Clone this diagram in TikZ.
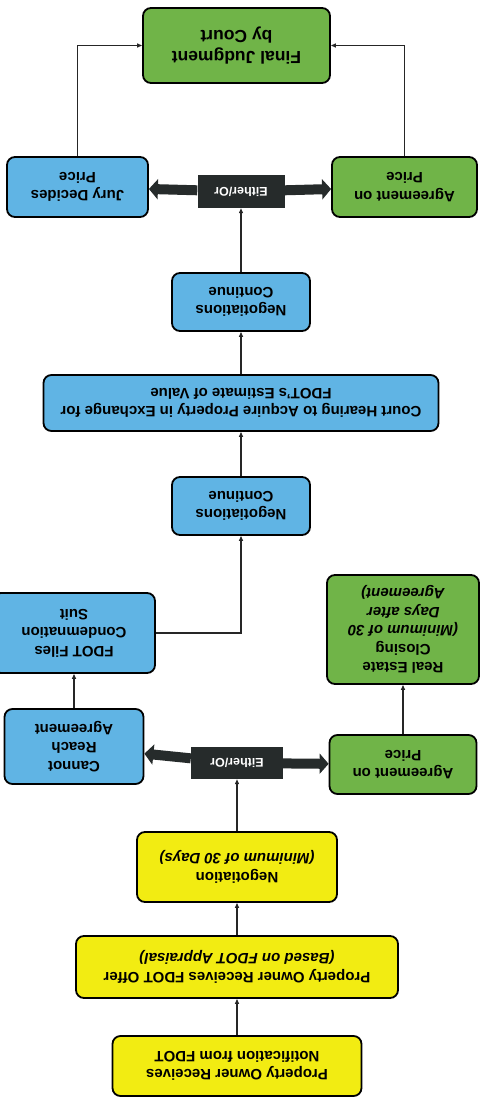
\documentclass[tikz,border=0pt]{standalone}
\usepackage{fontspec}
\setmainfont{Liberation Sans}
\usetikzlibrary{arrows.meta}

\definecolor{stepyellow}{RGB}{242,236,18}
\definecolor{stepgreen}{RGB}{112,180,72}
\definecolor{stepblue}{RGB}{96,180,228}
\definecolor{choicedark}{RGB}{38,43,43}

\begin{document}
\begin{tikzpicture}[x=1pt,y=1pt,
		box/.style={draw=black, line width=1.8pt, rounded corners=8pt, rotate=180, align=center, inner sep=2pt, font=\bfseries\fontsize{15}{18.5}\selectfont},
		yellowbox/.style={box, fill=stepyellow},
		greenbox/.style={box, fill=stepgreen},
		bluebox/.style={box, fill=stepblue},
		choice/.style={fill=choicedark, rotate=180, text=white, inner sep=1pt, font=\bfseries\fontsize{12.5}{14}\selectfont},
		flow/.style={-{Triangle[length=5pt,width=4pt]}, line width=1.2pt, draw=black!85},
		fork/.style={-{Triangle[length=9pt,width=20pt]}, line width=10pt, draw=choicedark}]
		\useasboundingbox (0,0) rectangle (486,-1102);
		% lower part
		\node [yellowbox, minimum width=249pt, minimum height=60pt] (notice) at (237,-1066) {Property Owner Receives\\Notification from FDOT};
		\node [yellowbox, minimum width=322pt, minimum height=62pt] (offer) at (237,-967) {Property Owner Receives FDOT Offer\\\textit{(Based on FDOT Appraisal)}};
		\node [yellowbox, minimum width=200pt, minimum height=70pt] (nego) at (237,-867) {Negotiation\\\textit{(Minimum of 30 Days)}};
		\node [choice, minimum width=92pt, minimum height=32pt] (either1) at (237,-763) {Either/Or};
		\node [bluebox, minimum width=139pt, minimum height=75pt] (cannot) at (74,-746.5) {Cannot\\Reach\\Agreement};
		\node [greenbox, minimum width=147pt, minimum height=59pt] (agree1) at (403,-764.5) {Agreement on\\Price};
		\node [bluebox, minimum width=162pt, minimum height=80pt] (condemn) at (74,-633) {FDOT Files\\Condemnation\\Suit};
		\node [greenbox, minimum width=152pt, minimum height=109pt] (closing) at (403,-629.5) {Real Estate\\Closing\\\textit{(Minimum of 30}\\\textit{Days after}\\\textit{Agreement)}};
		% upper part
		\node [bluebox, minimum width=138pt, minimum height=58pt] (negcont1) at (241,-506) {Negotiations\\Continue};
		\node [bluebox, minimum width=395pt, minimum height=56pt] (court) at (241,-403) {Court Hearing to Acquire Property in Exchange for\\FDOT's Estimate of Value};
		\node [bluebox, minimum width=138pt, minimum height=58pt] (negcont2) at (241,-302) {Negotiations\\Continue};
		\node [choice, minimum width=87pt, minimum height=33pt] (either2) at (241,-191.5) {Either/Or};
		\node [bluebox, minimum width=141pt, minimum height=60pt] (jury) at (77.5,-187) {Jury Decides\\Price};
		\node [greenbox, minimum width=145pt, minimum height=60pt] (agree2) at (404.5,-187) {Agreement on\\Price};
		\node [greenbox, minimum width=187pt, minimum height=75pt, font=\bfseries\fontsize{17.5}{21}\selectfont] (final) at (236.5,-45.5) {Final Judgment\\by Court};
		% connectors
		\draw [flow] (notice) -- (offer);
		\draw [flow] (offer) -- (nego);
		\draw [flow] (nego) -- (either1);
		\draw [fork] (either1) -- (cannot);
		\draw [fork] (either1) -- (agree1);
		\draw [flow] (cannot) -- (condemn);
		\draw [flow] (agree1) -- (closing);
		\draw [flow] (condemn.west) -| (negcont1);
		\draw [flow] (negcont1) -- (court);
		\draw [flow] (court) -- (negcont2);
		\draw [flow] (negcont2) -- (either2);
		\draw [fork] (either2) -- (jury);
		\draw [fork] (either2) -- (agree2);
		\draw [flow] (jury) |- (final);
		\draw [flow] (agree2) |- (final);
\end{tikzpicture}
\end{document}
